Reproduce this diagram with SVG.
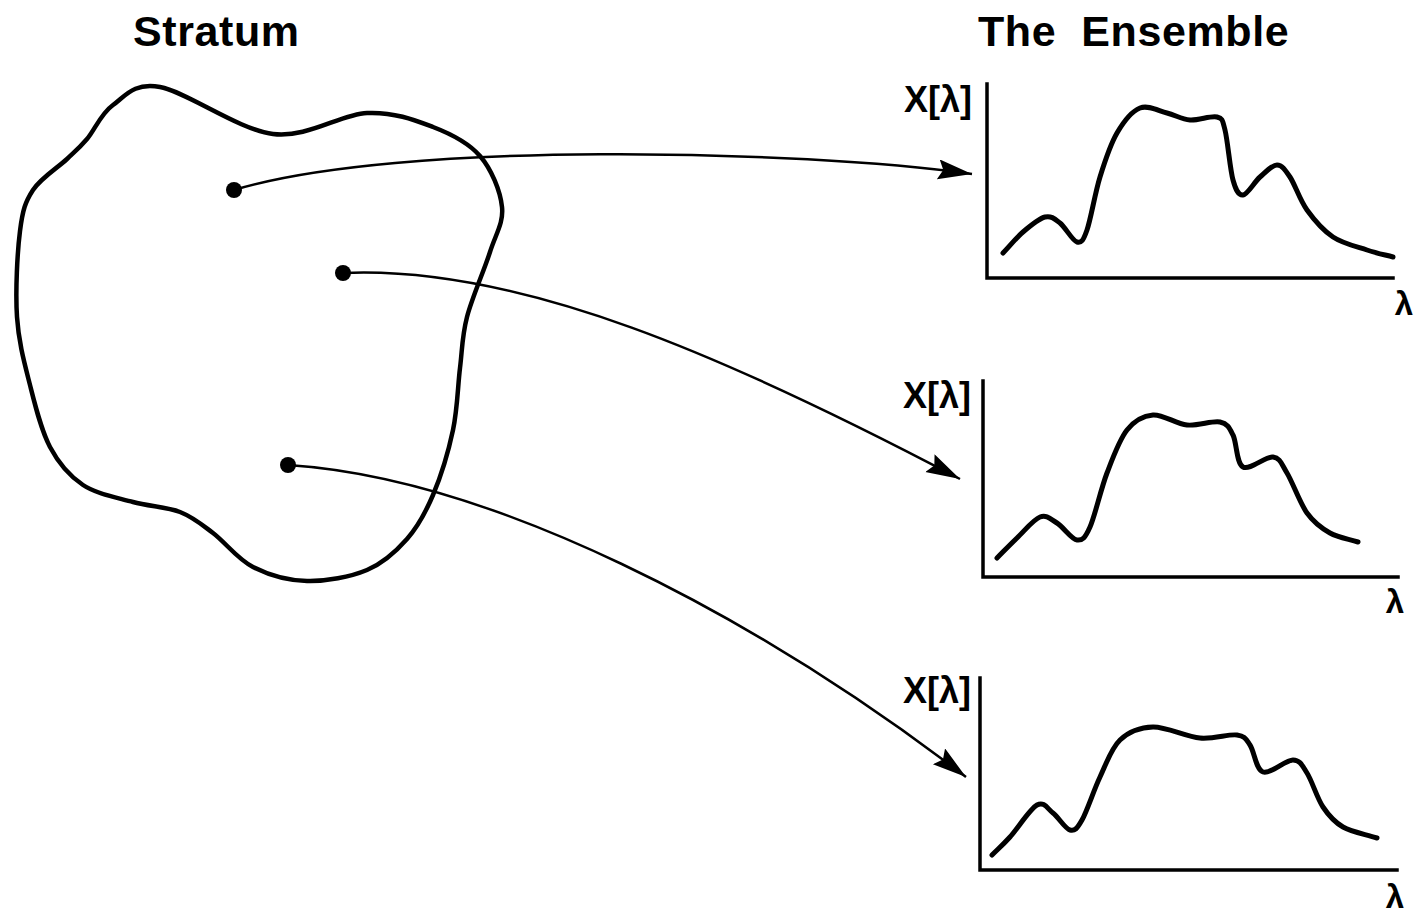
<svg xmlns="http://www.w3.org/2000/svg" width="1414" height="915" viewBox="0 0 1414 915">
<style>
.title{font-family:"Liberation Sans",Arial,sans-serif;font-weight:bold;font-size:43px;letter-spacing:0.6px;fill:#000}
.lab{font-family:"Liberation Sans",Arial,sans-serif;font-weight:bold;font-size:36px;fill:#000}
.lam{font-family:"Liberation Sans",Arial,sans-serif;font-weight:bold;font-size:33px;fill:#000}
.blob{fill:none;stroke:#000;stroke-width:4.5;stroke-linejoin:round}
.axis{fill:none;stroke:#000;stroke-width:3.5;stroke-linecap:square}
.curve{fill:none;stroke:#000;stroke-width:5;stroke-linecap:round;stroke-linejoin:round}
.conn{fill:none;stroke:#000;stroke-width:2.5;marker-end:url(#ah)}
</style>
<defs>
<marker id="ah" markerUnits="userSpaceOnUse" markerWidth="36" markerHeight="22" refX="34" refY="10" orient="auto">
<path d="M0,0 L34,10 L0,20 L5,10 z" fill="#000"/>
</marker>
</defs>
<rect width="1414" height="915" fill="#fff"/>
<text class="title" x="133" y="46">Stratum</text>
<text class="title" x="978" y="46" xml:space="preserve">The  Ensemble</text>

<g id="stratum">
<path class="blob" d="M160,87 C186.7,91.8 238.5,129.7 273,134 S340.3,114.2 367,113 S414.2,119.8 433,127 S468.5,142.7 480,156 S500.3,191 502,207 S495.8,233.7 490,252 S472,297.7 467,317 S462.3,349.2 460,368 S457.5,408.8 453,430 S440.7,476.8 433,495 S418,526.5 407,539 S383.7,563 367,570 S326,581.5 307,581 S268.7,575 253,567 S225.2,542.2 213,533 S193.3,517.2 180,512 S149.2,506.5 133,502 S96.8,494.2 83,485 S58.8,463.7 50,447 S35.5,406.7 30,385 S18.7,342.7 17,317 S17.3,252.2 20,231 S25.2,202 33,190 S58,167.5 67,159 S79.3,148 87,139 S100.8,113.7 113,105 S133.3,82.2 160,87 Z"/>
</g>
<g id="point1"><circle cx="234" cy="190" r="8" fill="#000"/></g>
<g id="point2"><circle cx="343" cy="273" r="8" fill="#000"/></g>
<g id="point3"><circle cx="288" cy="465" r="8" fill="#000"/></g>

<g id="connectors">
<path class="conn" d="M234,190 C400,140 800,150 972,174"/>
<path class="conn" d="M343,273 C520,265 730,358 960,479"/>
<path class="conn" d="M288,465 C490,478 750,612 966,777"/>
</g>

<g id="chart1">
<text class="lab" x="904" y="112">X[λ]</text>
<path class="axis" d="M987,84 V278 H1393"/>
<path class="curve" d="M1003,253 C1009.7,246 1016,238 1023,232 S1038.8,218.5 1045,217 S1054.7,218.8 1060,223 S1072.5,240.8 1077,242 S1083.2,240.8 1087,230 S1095,193.2 1100,177 S1110.3,144.5 1117,133 S1131.7,111.3 1140,108 S1158.7,111 1167,113 S1181.7,119.3 1190,120 S1211.2,115.3 1217,117 S1222.3,119.5 1225,130 S1230,169.2 1233,180 S1238.5,195.5 1243,195 S1254.3,182 1260,177 S1272,165 1277,165 S1285,169.5 1290,177 S1299.8,200 1307,210 S1323,230.3 1333,237 S1357,246.7 1367,250 S1384.3,254.7 1393,257"/>
<text class="lam" x="1413" y="315" text-anchor="end">λ</text>
</g>

<g id="chart2">
<text class="lab" x="903" y="408">X[λ]</text>
<path class="axis" d="M983,381 V577 H1398"/>
<path class="curve" d="M997,558 C1003.7,551.3 1009.8,544.8 1017,538 S1033.3,519.5 1040,517 S1050.8,519.2 1057,523 S1071.5,539.3 1077,540 S1085,538.2 1090,527 S1100.8,489.2 1107,473 S1119.3,439.7 1127,430 S1143,415.8 1153,415 S1175.8,423.8 1187,425 S1212.3,420.3 1220,422 S1229.2,427.5 1233,435 S1236.3,463.3 1243,467 S1265.7,456 1273,457 S1281.3,463.7 1287,473 S1299.8,503 1307,513 S1321.5,528.2 1330,533 S1348.7,539 1358,542"/>
<text class="lam" x="1404" y="613" text-anchor="end">λ</text>
</g>

<g id="chart3">
<text class="lab" x="903" y="703">X[λ]</text>
<path class="axis" d="M980,678 V870 H1397"/>
<path class="curve" d="M992,855 C998,849 1002.5,845.3 1010,837 S1029.8,809 1037,805 S1047.5,808.8 1053,813 S1065.2,828.8 1070,830 S1077,828.8 1082,820 S1093.7,790.3 1100,777 S1111.2,748.3 1120,740 S1139.7,727.3 1153,727 S1186,736.7 1200,738 S1228.7,733.8 1237,735 S1245.7,738.8 1250,745 S1255.8,769.5 1263,772 S1285.7,759.8 1293,760 S1302,765.2 1307,773 S1317,798 1323,807 S1334,821.8 1343,827 S1365.7,834.3 1377,838"/>
<text class="lam" x="1404" y="908" text-anchor="end">λ</text>
</g>
</svg>
